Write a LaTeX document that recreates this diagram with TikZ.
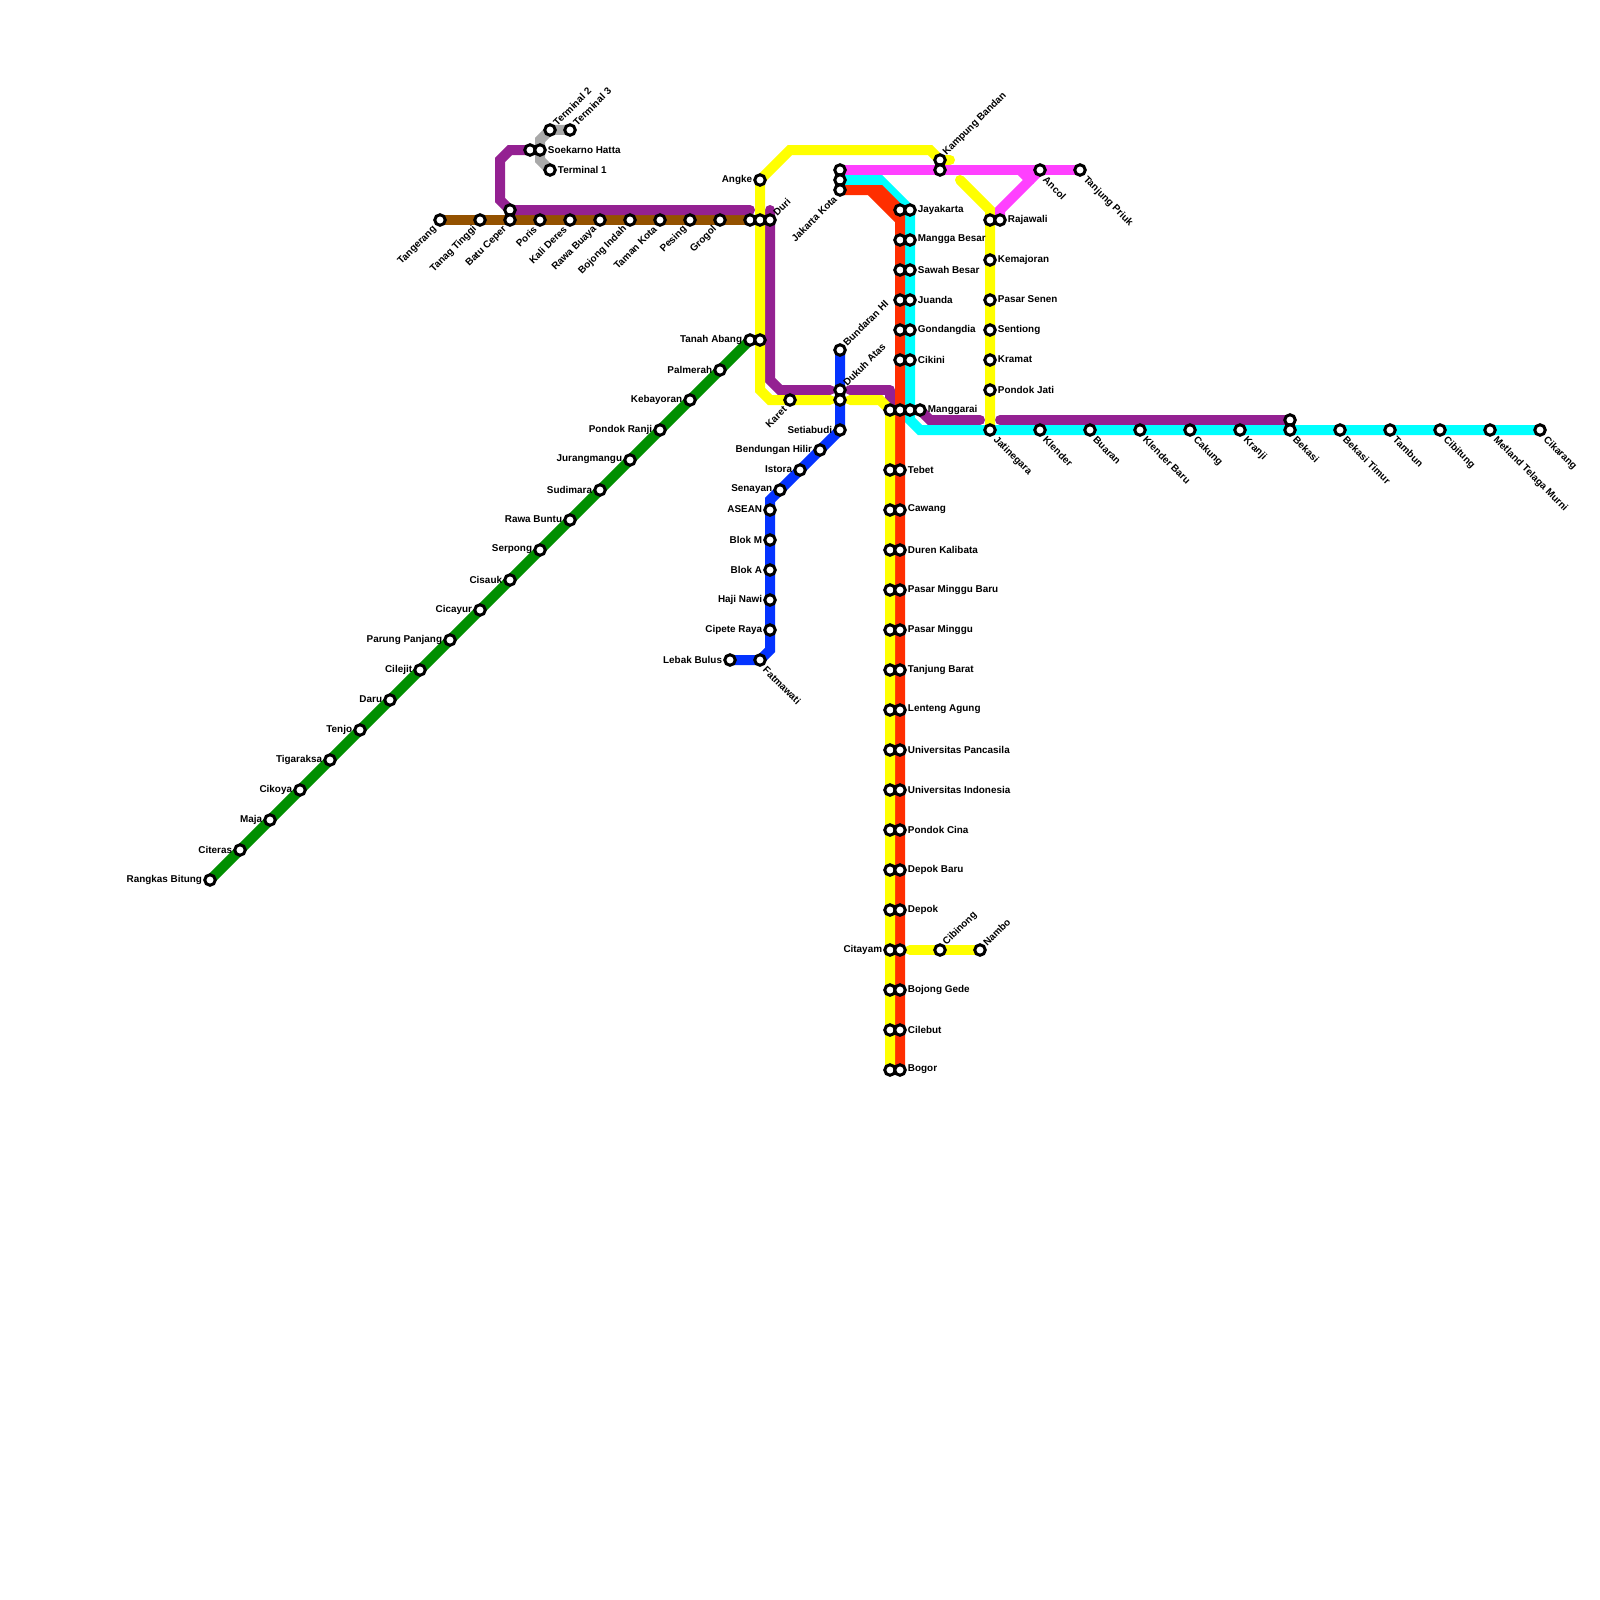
\documentclass[tikz,border=0pt]{standalone}
\usepackage{fontspec}
\setmainfont{Liberation Sans}
\usetikzlibrary{backgrounds}

\definecolor{lineyellow}{HTML}{FFFF00}
\definecolor{linered}{HTML}{FF2E00}
\definecolor{linecyan}{HTML}{00FFFF}
\definecolor{linepink}{HTML}{FF40FF}
\definecolor{linepurple}{HTML}{942192}
\definecolor{linebrown}{HTML}{945200}
\definecolor{linegreen}{HTML}{008F00}
\definecolor{lineblue}{HTML}{0433FF}
\definecolor{linegray}{HTML}{A9A9A9}

\begin{document}
\begin{tikzpicture}[
  x=1pt,
  y=-1pt,
  stn/.style={
    circle,
    draw=black,
    fill=white,
    line width=3pt,
    inner sep=0pt,
    minimum size=10.5pt
  },
  lblfont/.style={
    font=\fontsize{9.9}{11}\selectfont\bfseries,
    text=black,
    inner sep=0pt
  },
  lblR/.style={label={[lblfont, label distance=1pt, yshift=0.5pt]0:#1}},
  lblL/.style={label={[lblfont, label distance=1pt, yshift=0.5pt]180:#1}},
  lblUR/.style={label={[lblfont, rotate=45, anchor=west, label distance=1pt]45:#1}},
  lblDL/.style={label={[lblfont, rotate=45, anchor=east, label distance=3pt]225:#1}},
  lblDR/.style={label={[lblfont, rotate=-45, anchor=west, label distance=3.5pt]-45:#1}},
  route/.style={line width=10pt, line cap=round, miter limit=4},
  yellowline/.style={route, lineyellow},
  redline/.style={route, linered},
  cyanline/.style={route, linecyan},
  pinkline/.style={route, linepink},
  purpleline/.style={route, linepurple},
  brownline/.style={route, linebrown},
  greenline/.style={route, linegreen},
  blueline/.style={route, lineblue},
  grayline/.style={route, linegray}
]
\useasboundingbox (0,0) rectangle (1600,1600);

% airport branch
\node[stn, lblUR={Terminal 2}] (term2) at (550,130) {};
\node[stn, lblUR={Terminal 3}] (term3) at (570,130) {};
\node[stn] (soetaW) at (530,150) {};
\node[stn, lblR={Soekarno Hatta}] (soeta) at (540,150) {};
\node[stn, lblR={Terminal 1}] (term1) at (550,170) {};

% west line
\node[stn, lblDL={Tangerang}] (tangerang) at (440,220) {};
\node[stn, lblDL={Tanag Tinggi}] (tanagtinggi) at (480,220) {};
\node[stn] (batuceperN) at (510,210) {};
\node[stn, lblDL={Batu Ceper}] (batuceper) at (510,220) {};
\node[stn, lblDL={Poris}] (poris) at (540,220) {};
\node[stn, lblDL={Kali Deres}] (kalideres) at (570,220) {};
\node[stn, lblDL={Rawa Buaya}] (rawabuaya) at (600,220) {};
\node[stn, lblDL={Bojong Indah}] (bojongindah) at (630,220) {};
\node[stn, lblDL={Taman Kota}] (tamankota) at (660,220) {};
\node[stn, lblDL={Pesing}] (pesing) at (690,220) {};
\node[stn, lblDL={Grogol}] (grogol) at (720,220) {};
\node[stn] (duriW) at (750,220) {};
\node[stn] (duriM) at (760,220) {};
\node[stn, lblUR={Duri}] (duri) at (770,220) {};

% south west line
\node[stn, lblL={Rangkas Bitung}] (rangkas) at (210,880) {};
\node[stn, lblL={Citeras}] (citeras) at (240,850) {};
\node[stn, lblL={Maja}] (maja) at (270,820) {};
\node[stn, lblL={Cikoya}] (cikoya) at (300,790) {};
\node[stn, lblL={Tigaraksa}] (tigaraksa) at (330,760) {};
\node[stn, lblL={Tenjo}] (tenjo) at (360,730) {};
\node[stn, lblL={Daru}] (daru) at (390,700) {};
\node[stn, lblL={Cilejit}] (cilejit) at (420,670) {};
\node[stn, lblL={Parung Panjang}] (parung) at (450,640) {};
\node[stn, lblL={Cicayur}] (cicayur) at (480,610) {};
\node[stn, lblL={Cisauk}] (cisauk) at (510,580) {};
\node[stn, lblL={Serpong}] (serpong) at (540,550) {};
\node[stn, lblL={Rawa Buntu}] (rawabuntu) at (570,520) {};
\node[stn, lblL={Sudimara}] (sudimara) at (600,490) {};
\node[stn, lblL={Jurangmangu}] (jurangmangu) at (630,460) {};
\node[stn, lblL={Pondok Ranji}] (pondokranji) at (660,430) {};
\node[stn, lblL={Kebayoran}] (kebayoran) at (690,400) {};
\node[stn, lblL={Palmerah}] (palmerah) at (720,370) {};
\node[stn, lblL={Tanah Abang}] (tanahabang) at (750,340) {};
\node[stn] (tanahabangE) at (760,340) {};

% loop line and metro
\node[stn, lblL={Angke}] (angke) at (760,180) {};
\node[stn, lblDL={Karet}] (karet) at (790,400) {};
\node[stn, lblUR={Bundaran HI}] (bundaran) at (840,350) {};
\node[stn, lblUR={Dukuh Atas}] (dukuh) at (840,390) {};
\node[stn] (dukuhS) at (840,400) {};
\node[stn, lblL={Setiabudi}] (setiabudi) at (840,430) {};
\node[stn, lblL={Bendungan Hilir}] (bendungan) at (820,450) {};
\node[stn, lblL={Istora}] (istora) at (800,470) {};
\node[stn, lblL={Senayan}] (senayan) at (780,490) {};
\node[stn, lblL={ASEAN}] (asean) at (770,510) {};
\node[stn, lblL={Blok M}] (blokm) at (770,540) {};
\node[stn, lblL={Blok A}] (bloka) at (770,570) {};
\node[stn, lblL={Haji Nawi}] (hajinawi) at (770,600) {};
\node[stn, lblL={Cipete Raya}] (cipete) at (770,630) {};
\node[stn, lblDR={Fatmawati}] (fatmawati) at (760,660) {};
\node[stn, lblL={Lebak Bulus}] (lebakbulus) at (730,660) {};

% north end
\node[stn] (kotaN) at (840,170) {};
\node[stn] (kotaM) at (840,180) {};
\node[stn, lblDL={Jakarta Kota}] (kota) at (840,190) {};
\node[stn, lblUR={Kampung Bandan}] (kampung) at (940,160) {};
\node[stn] (kampungS) at (940,170) {};
\node[stn, lblDR={Ancol}] (ancol) at (1040,170) {};
\node[stn, lblDR={Tanjung Priuk}] (priuk) at (1080,170) {};

% central line
\node[stn] (jayakartaW) at (900,210) {};
\node[stn, lblR={Jayakarta}] (jayakarta) at (910,210) {};
\node[stn] (manggaW) at (900,240) {};
\node[stn, lblR={Mangga Besar}] (mangga) at (910,240) {};
\node[stn] (sawahW) at (900,270) {};
\node[stn, lblR={Sawah Besar}] (sawah) at (910,270) {};
\node[stn] (juandaW) at (900,300) {};
\node[stn, lblR={Juanda}] (juanda) at (910,300) {};
\node[stn] (gondangW) at (900,330) {};
\node[stn, lblR={Gondangdia}] (gondang) at (910,330) {};
\node[stn] (cikiniW) at (900,360) {};
\node[stn, lblR={Cikini}] (cikini) at (910,360) {};
\node[stn] (manggaraiA) at (890,410) {};
\node[stn] (manggaraiB) at (900,410) {};
\node[stn] (manggaraiC) at (910,410) {};
\node[stn, lblR={Manggarai}] (manggarai) at (920,410) {};

% south line
\node[stn] (tebetW) at (890,470) {};
\node[stn, lblR={Tebet}] (tebet) at (900,470) {};
\node[stn] (cawangW) at (890,510) {};
\node[stn, lblR={Cawang}] (cawang) at (900,510) {};
\node[stn] (durenW) at (890,550) {};
\node[stn, lblR={Duren Kalibata}] (duren) at (900,550) {};
\node[stn] (pmbaruW) at (890,590) {};
\node[stn, lblR={Pasar Minggu Baru}] (pmbaru) at (900,590) {};
\node[stn] (pmW) at (890,630) {};
\node[stn, lblR={Pasar Minggu}] (pm) at (900,630) {};
\node[stn] (tbaratW) at (890,670) {};
\node[stn, lblR={Tanjung Barat}] (tbarat) at (900,670) {};
\node[stn] (lentengW) at (890,710) {};
\node[stn, lblR={Lenteng Agung}] (lenteng) at (900,710) {};
\node[stn] (upW) at (890,750) {};
\node[stn, lblR={Universitas Pancasila}] (up) at (900,750) {};
\node[stn] (uiW) at (890,790) {};
\node[stn, lblR={Universitas Indonesia}] (ui) at (900,790) {};
\node[stn] (pocinW) at (890,830) {};
\node[stn, lblR={Pondok Cina}] (pocin) at (900,830) {};
\node[stn] (depokbaruW) at (890,870) {};
\node[stn, lblR={Depok Baru}] (depokbaru) at (900,870) {};
\node[stn] (depokW) at (890,910) {};
\node[stn, lblR={Depok}] (depok) at (900,910) {};
\node[stn, lblL={Citayam}] (citayamW) at (890,950) {};
\node[stn] (citayam) at (900,950) {};
\node[stn] (bojongW) at (890,990) {};
\node[stn, lblR={Bojong Gede}] (bojong) at (900,990) {};
\node[stn] (cilebutW) at (890,1030) {};
\node[stn, lblR={Cilebut}] (cilebut) at (900,1030) {};
\node[stn] (bogorW) at (890,1070) {};
\node[stn, lblR={Bogor}] (bogor) at (900,1070) {};
\node[stn, lblUR={Cibinong}] (cibinong) at (940,950) {};
\node[stn, lblUR={Nambo}] (nambo) at (980,950) {};

% east side
\node[stn] (rajawaliW) at (990,220) {};
\node[stn, lblR={Rajawali}] (rajawali) at (1000,220) {};
\node[stn, lblR={Kemajoran}] (kemajoran) at (990,260) {};
\node[stn, lblR={Pasar Senen}] (senen) at (990,300) {};
\node[stn, lblR={Sentiong}] (sentiong) at (990,330) {};
\node[stn, lblR={Kramat}] (kramat) at (990,360) {};
\node[stn, lblR={Pondok Jati}] (pondokjati) at (990,390) {};
\node[stn, lblDR={Jatinegara}] (jatinegara) at (990,430) {};
\node[stn, lblDR={Klender}] (klender) at (1040,430) {};
\node[stn, lblDR={Buaran}] (buaran) at (1090,430) {};
\node[stn, lblDR={Klender Baru}] (klenderbaru) at (1140,430) {};
\node[stn, lblDR={Cakung}] (cakung) at (1190,430) {};
\node[stn, lblDR={Kranji}] (kranji) at (1240,430) {};
\node[stn] (bekasiN) at (1290,420) {};
\node[stn, lblDR={Bekasi}] (bekasi) at (1290,430) {};
\node[stn, lblDR={Bekasi Timur}] (bekasitimur) at (1340,430) {};
\node[stn, lblDR={Tambun}] (tambun) at (1390,430) {};
\node[stn, lblDR={Cibitung}] (cibitung) at (1440,430) {};
\node[stn, lblDR={Metland Telaga Murni}] (metland) at (1490,430) {};
\node[stn, lblDR={Cikarang}] (cikarang) at (1540,430) {};

% bends and free ends
\coordinate (grayA) at (540,160);
\coordinate (grayB) at (540,140);
\coordinate (purA) at (510,150);
\coordinate (purB) at (500,160);
\coordinate (purC) at (500,200);
\coordinate (purD) at (750,210);
\coordinate (purE) at (770,210);
\coordinate (purF) at (770,380);
\coordinate (purG) at (780,390);
\coordinate (purH) at (830,390);
\coordinate (purI) at (850,390);
\coordinate (purJ) at (890,390);
\coordinate (purL) at (930,420);
\coordinate (purM) at (980,420);
\coordinate (purN) at (1000,420);
\coordinate (bluA) at (770,500);
\coordinate (bluB) at (770,650);
\coordinate (yelA) at (950,160);
\coordinate (yelB) at (930,150);
\coordinate (yelC) at (790,150);
\coordinate (yelD) at (760,390);
\coordinate (yelE) at (770,400);
\coordinate (yelF) at (830,400);
\coordinate (yelG) at (850,400);
\coordinate (yelH) at (880,400);
\coordinate (yelI) at (960,180);
\coordinate (yelJ) at (990,210);
\coordinate (yelK) at (910,950);
\coordinate (cyaA) at (880,180);
\coordinate (cyaB) at (910,420);
\coordinate (cyaC) at (920,430);
\coordinate (redA) at (880,190);
\coordinate (redB) at (870,190);
\coordinate (redC) at (900,220);
\coordinate (pnkA) at (1000,210);
\coordinate (pnkB) at (1020,170);
\coordinate (pnkC) at (1030,180);

\begin{pgfonlayer}{background}
  \draw[grayline] (term1.center) -- (grayA) -- (grayB) -- (term2.center) -- (term3.center);

  \draw[brownline] (tangerang.center) -- (duriW.center);

  \draw[purpleline] (soetaW.center) -- (purA) -- (purB) -- (purC)
    -- (batuceperN.center) -- (purD);
  \draw[purpleline] (purE) -- (purF) -- (purG) -- (purH);
  \draw[purpleline, line join=round] (purI) -- (purJ) -- (manggaraiA.center);
  \draw[purpleline] (manggarai.center) -- (purL) -- (purM);
  \draw[purpleline] (purN) -- (bekasiN.center);

  \draw[greenline] (rangkas.center) -- (tanahabang.center);

  \draw[cyanline] (kotaM.center) -- (cyaA) -- (jayakarta.center)
    -- (cyaB) -- (cyaC) -- (cikarang.center);

  \draw[redline] (kota.center) -- (redA) -- (jayakartaW.center) -- (bogor.center);
  \draw[redline] (redB) -- (redC);

  \draw[yellowline] (yelA) -- (kampung.center) -- (yelB) -- (yelC)
    -- (angke.center) -- (yelD) -- (yelE) -- (yelF);
  \draw[yellowline] (yelG) -- (yelH) -- (manggaraiA.center) -- (bogorW.center);
  \draw[yellowline] (yelI) -- (yelJ) -- (jatinegara.center);
  \draw[yellowline] (yelK) -- (nambo.center);

  \draw[pinkline] (kotaN.center) -- (priuk.center);
  \draw[pinkline] (rajawali.center) -- (pnkA) -- (ancol.center);
  \draw[pinkline] (pnkB) -- (pnkC);

  \draw[blueline] (bundaran.center) -- (setiabudi.center) -- (bluA)
    -- (bluB) -- (fatmawati.center) -- (lebakbulus.center);
\end{pgfonlayer}

\end{tikzpicture}
\end{document}
